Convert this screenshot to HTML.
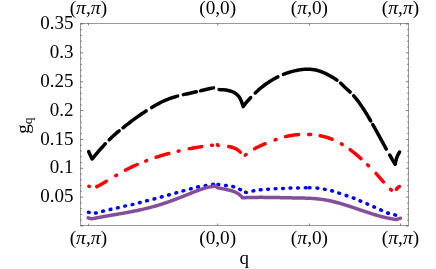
<!DOCTYPE html>
<html><head><meta charset="utf-8"><title>plot</title>
<style>
html,body{margin:0;padding:0;background:#fff;}
body{width:436px;height:269px;overflow:hidden;font-family:"Liberation Serif",serif;}
svg{display:block}
text{font-family:"Liberation Serif",serif;font-size:19px;fill:#000}
.i{font-style:italic;font-size:19.8px}
.x{font-size:19.3px}
.c path{fill:none;stroke-width:3.5;stroke-linecap:round;stroke-linejoin:round}
</style></head><body>
<svg width="436" height="269" viewBox="0 0 436 269">
<rect width="436" height="269" fill="#fff"/>
<g class="c">
<path d="M88.64 151.60 L89.50 153.39 L90.80 156.16 L92.10 159.00 L93.17 157.75 L94.24 156.50 L95.31 155.24 L96.38 153.98 L97.45 152.72 L98.52 151.47 L99.58 150.22 L100.65 148.98 L101.72 147.76 L102.79 146.55 L103.86 145.35 L104.93 144.17 L105.32 143.75" stroke="#000" stroke-width="3.8"/>
<path d="M109.21 139.72 L109.54 139.39 L110.57 138.39 L111.61 137.41 L112.65 136.45 L113.68 135.52 L114.72 134.60 L115.75 133.71 L116.79 132.82 L117.83 131.96 L118.86 131.10 L119.13 130.89" stroke="#000" stroke-width="3.8"/>
<path d="M122.98 127.78 L123.23 127.58 L124.27 126.77 L125.30 125.95 L126.33 125.15 L127.37 124.35 L128.40 123.55 L129.43 122.76 L130.47 121.98 L131.50 121.20 L132.53 120.43 L133.57 119.66 L134.60 118.90 L135.63 118.15 L136.67 117.41 L137.70 116.67 L138.73 115.95 L139.77 115.23 L140.80 114.51 L141.83 113.81 L142.87 113.11 L143.90 112.43 L144.93 111.75 L145.97 111.08 L146.16 110.96" stroke="#000" stroke-width="3.8"/>
<path d="M151.66 107.56 L151.83 107.45 L152.86 106.84 L153.89 106.23 L154.92 105.63 L155.95 105.04 L156.98 104.47 L158.01 103.90 L159.04 103.35 L160.07 102.81 L161.10 102.29 L162.13 101.78 L163.16 101.29 L164.19 100.82 L165.21 100.37 L166.24 99.93 L167.27 99.51 L168.30 99.11 L169.33 98.73 L170.36 98.36 L171.39 98.00 L172.42 97.66 L173.45 97.33 L174.48 97.01 L175.51 96.70 L176.54 96.41 L177.57 96.12 L177.63 96.11" stroke="#000" stroke-width="3.8"/>
<path d="M183.37 94.66 L183.46 94.64 L184.53 94.40 L185.59 94.16 L186.66 93.92 L187.72 93.68 L188.79 93.45 L189.85 93.22 L190.91 92.99 L191.98 92.76 L193.04 92.53 L194.11 92.30 L195.17 92.06 L196.24 91.82 L196.33 91.80" stroke="#000" stroke-width="3.8"/>
<path d="M200.47 90.84 L200.56 90.82 L201.63 90.56 L202.69 90.31 L203.76 90.06 L204.82 89.80 L205.89 89.55 L206.95 89.30 L208.01 89.05 L209.08 88.80 L210.14 88.56 L211.21 88.32 L212.27 88.09 L213.34 87.86 L213.42 87.84" stroke="#000" stroke-width="3.8"/>
<path d="M219.10 89.60 L219.10 89.60 L220.10 89.66 L221.10 89.70 L222.10 89.74 L223.10 89.78 L224.10 89.84 L225.10 89.92 L226.10 90.05 L227.10 90.22 L228.10 90.43 L229.10 90.68 L230.10 90.96 L231.10 91.28 L232.10 91.63 L233.10 92.03 L234.10 92.54 L235.10 93.15 L236.10 93.88 L237.10 94.73 L238.10 95.69 L239.10 96.91 L240.10 98.59 L241.10 100.65 L242.10 103.25 L243.10 106.60 L244.14 105.25 L245.18 103.95 L246.21 102.67 L247.25 101.43 L248.29 100.23 L249.32 99.05 L250.36 97.91 L250.72 97.52" stroke="#000" stroke-width="3.8"/>
<path d="M255.22 92.95 L255.51 92.66 L256.52 91.72 L257.54 90.79 L258.55 89.90 L259.56 89.02 L260.57 88.17 L261.59 87.35 L262.60 86.54 L263.61 85.76 L264.62 85.00 L265.64 84.26 L266.65 83.54 L267.66 82.84 L268.68 82.17 L269.69 81.51 L270.70 80.87 L271.71 80.24 L272.73 79.64 L273.74 79.06 L274.75 78.49 L275.76 77.95 L276.78 77.42 L277.79 76.91 L277.90 76.85" stroke="#000" stroke-width="3.8"/>
<path d="M283.43 74.38 L283.51 74.35 L284.51 73.95 L285.52 73.58 L286.52 73.21 L287.53 72.87 L288.53 72.54 L289.54 72.22 L290.54 71.92 L291.55 71.63 L292.55 71.36 L293.56 71.11 L294.57 70.86 L295.57 70.63 L296.58 70.42 L297.58 70.22 L298.59 70.04 L299.59 69.87 L300.60 69.72 L301.60 69.59 L302.61 69.47 L303.61 69.38 L304.62 69.30 L305.63 69.25 L306.63 69.22 L307.64 69.21 L308.64 69.23 L309.65 69.27 L310.65 69.33 L311.66 69.42 L312.66 69.54 L313.67 69.68 L314.67 69.85 L315.68 70.05 L316.69 70.28 L317.69 70.55 L318.70 70.84 L319.70 71.16 L320.71 71.51 L321.71 71.89 L322.72 72.29 L323.72 72.72 L324.73 73.17 L325.73 73.65 L326.74 74.15 L327.75 74.66 L328.75 75.19 L329.76 75.74 L330.76 76.31 L331.77 76.89 L332.77 77.48 L333.78 78.09 L334.78 78.70 L335.79 79.34 L336.79 80.01 L336.99 80.15" stroke="#000" stroke-width="3.8"/>
<path d="M340.54 83.09 L340.81 83.35 L341.82 84.31 L342.83 85.29 L343.84 86.28 L344.85 87.25 L345.85 88.20 L346.86 89.11 L347.87 90.02 L348.88 90.92 L349.89 91.85 L350.18 92.12" stroke="#000" stroke-width="3.8"/>
<path d="M353.67 95.74 L354.01 96.13 L355.02 97.32 L356.03 98.55 L357.04 99.83 L358.06 101.16 L359.07 102.53 L360.08 103.94 L361.09 105.40 L362.10 106.89 L363.11 108.42 L364.12 109.98 L365.13 111.58 L366.14 113.21 L367.16 114.87 L368.17 116.55 L369.18 118.26 L370.19 120.00 L370.70 120.89" stroke="#000" stroke-width="3.8"/>
<path d="M372.79 124.56 L373.34 125.52 L374.37 127.37 L375.41 129.24 L376.44 131.11 L377.48 133.00 L378.51 134.89 L379.55 136.78 L380.59 138.68 L381.62 140.57 L382.66 142.46 L383.69 144.35 L384.73 146.23 L385.76 148.10 L386.31 149.08" stroke="#000" stroke-width="3.8"/>
<path d="M389.7 155.0 L392.5 159.8 L395.2 164.3" stroke="#000" stroke-width="3.8"/>
<path d="M395.30 163.60 L395.70 161.50 L396.20 159.50 L397.00 157.00 L398.20 154.30 L399.60 152.00" stroke="#000" stroke-width="2.7"/>
<path d="M96.70 186.67 L96.84 186.61 L97.87 186.08 L98.91 185.55 L99.95 184.99 L100.98 184.42 L102.02 183.84 L103.05 183.25 L104.09 182.65 L105.13 182.04 L106.16 181.42 L106.34 181.32" stroke="#f00"/>
<path d="M125.38 170.18 L125.55 170.09 L126.61 169.54 L127.66 169.00 L128.72 168.47 L129.77 167.95 L130.82 167.44 L131.88 166.93 L132.93 166.44 L133.98 165.95 L135.04 165.48 L136.09 165.01 L137.15 164.55 L137.28 164.49" stroke="#f00"/>
<path d="M156.05 157.28 L156.15 157.25 L157.20 156.90 L158.25 156.56 L159.30 156.23 L160.35 155.90 L161.40 155.58 L162.45 155.26 L163.50 154.95 L164.55 154.65 L165.60 154.35 L166.65 154.06 L167.70 153.77 L168.75 153.49 L168.83 153.47" stroke="#f00"/>
<path d="M189.18 148.83 L189.24 148.82 L190.27 148.62 L191.31 148.42 L192.34 148.22 L193.38 148.03 L194.41 147.84 L195.45 147.65 L196.49 147.47 L197.52 147.29 L198.56 147.11 L199.59 146.94 L200.63 146.77 L201.66 146.61 L201.71 146.60" stroke="#f00"/>
<path d="M228.69 146.51 L228.72 146.52 L229.75 146.72 L230.77 146.95 L231.79 147.23 L232.82 147.53 L233.84 147.88 L234.86 148.29 L235.88 148.79 L236.91 149.38 L237.93 150.05 L238.95 150.80 L239.98 151.77 L240.33 152.16" stroke="#f00"/>
<path d="M254.65 148.77 L254.82 148.67 L255.83 148.08 L256.85 147.52 L257.87 146.99 L258.88 146.48 L259.90 145.99 L260.92 145.52 L261.93 145.07 L262.95 144.63 L263.97 144.20 L264.98 143.78 L265.07 143.75" stroke="#f00"/>
<path d="M285.47 136.67 L285.51 136.66 L286.51 136.42 L287.52 136.19 L288.53 135.98 L289.53 135.78 L290.54 135.59 L291.55 135.41 L292.55 135.25 L293.56 135.11 L294.57 134.97 L295.57 134.85 L296.58 134.74 L297.59 134.64 L298.59 134.56 L298.60 134.56" stroke="#f00"/>
<path d="M320.18 135.72 L320.27 135.74 L321.34 135.96 L322.41 136.19 L323.48 136.45 L324.55 136.73 L325.62 137.02 L326.68 137.34 L327.75 137.67 L328.82 138.03 L329.89 138.41 L330.96 138.81 L332.03 139.23 L332.18 139.29" stroke="#f00"/>
<path d="M350.11 149.68 L350.34 149.85 L351.38 150.63 L352.43 151.43 L353.47 152.25 L354.51 153.08 L355.55 153.93 L356.59 154.79 L357.63 155.67 L358.68 156.56 L359.72 157.47 L360.76 158.40 L361.06 158.67" stroke="#f00"/>
<path d="M375.98 173.47 L376.40 173.92 L377.50 175.13 L378.60 176.35 L379.70 177.58 L380.80 178.83 L381.90 180.10 L383.00 181.38 L383.45 181.91" stroke="#f00"/>
<path d="M396.41 189.25 L396.85 188.82 L398.00 187.35 L399.15 186.62 L399.34 186.57" stroke="#f00"/>
<path d="M88.90 186.30 L89.35 186.48" stroke="#f00"/>
<path d="M115.65 175.71 L115.95 175.53 L116.25 175.36 L116.55 175.18" stroke="#f00"/>
<path d="M145.75 161.02 L146.20 160.85 L146.65 160.68" stroke="#f00"/>
<path d="M178.15 151.17 L178.60 151.07 L179.05 150.96" stroke="#f00"/>
<path d="M211.65 145.30 L212.10 145.26 L212.55 145.21" stroke="#f00"/>
<path d="M217.45 144.81 L217.60 144.80 L217.70 145.30 L218.02 145.43 L218.35 145.49" stroke="#f00"/>
<path d="M245.25 155.12 L245.70 154.83 L246.15 154.53" stroke="#f00"/>
<path d="M275.15 139.84 L275.60 139.68 L276.05 139.52" stroke="#f00"/>
<path d="M308.55 134.39 L309.00 134.41 L309.45 134.43" stroke="#f00"/>
<path d="M309.75 134.44 L310.20 134.47 L310.65 134.50" stroke="#f00"/>
<path d="M341.35 143.87 L341.80 144.13 L342.25 144.40" stroke="#f00"/>
<path d="M367.55 164.77 L368.00 165.22 L368.45 165.66" stroke="#f00"/>
<path d="M390.55 189.47 L391.00 189.79 L391.45 190.08" stroke="#f00"/>
<path d="M88.40 212.37 L89.20 212.43" stroke="#00f"/>
<path d="M95.50 213.03 L96.30 212.97" stroke="#00f"/>
<path d="M102.61 211.30 L103.39 211.10" stroke="#00f"/>
<path d="M110.11 209.49 L110.89 209.31" stroke="#00f"/>
<path d="M117.41 207.89 L118.19 207.71" stroke="#00f"/>
<path d="M124.71 206.09 L125.49 205.91" stroke="#00f"/>
<path d="M132.11 204.59 L132.89 204.41" stroke="#00f"/>
<path d="M139.41 202.70 L140.19 202.50" stroke="#00f"/>
<path d="M146.61 200.80 L147.39 200.60" stroke="#00f"/>
<path d="M154.01 199.00 L154.79 198.80" stroke="#00f"/>
<path d="M161.31 197.01 L162.09 196.79" stroke="#00f"/>
<path d="M168.51 195.01 L169.29 194.79" stroke="#00f"/>
<path d="M175.92 192.91 L176.68 192.69" stroke="#00f"/>
<path d="M183.01 190.91 L183.79 190.69" stroke="#00f"/>
<path d="M190.41 188.90 L191.19 188.70" stroke="#00f"/>
<path d="M197.61 186.99 L198.39 186.81" stroke="#00f"/>
<path d="M205.11 185.67 L205.89 185.53" stroke="#00f"/>
<path d="M212.60 184.43 L213.40 184.37" stroke="#00f"/>
<path d="M217.90 184.47 L218.70 184.53" stroke="#00f"/>
<path d="M225.50 185.44 L226.30 185.56" stroke="#00f"/>
<path d="M232.81 186.49 L233.59 186.71" stroke="#00f"/>
<path d="M239.74 189.33 L240.46 189.67" stroke="#00f"/>
<path d="M245.50 192.36 L246.30 192.44" stroke="#00f"/>
<path d="M253.01 190.97 L253.79 190.83" stroke="#00f"/>
<path d="M260.30 189.85 L261.10 189.75" stroke="#00f"/>
<path d="M267.70 189.23 L268.50 189.17" stroke="#00f"/>
<path d="M275.20 188.72 L276.00 188.68" stroke="#00f"/>
<path d="M282.60 188.42 L283.40 188.38" stroke="#00f"/>
<path d="M290.10 188.11 L290.90 188.09" stroke="#00f"/>
<path d="M297.60 187.91 L298.40 187.89" stroke="#00f"/>
<path d="M305.30 187.80 L306.10 187.80" stroke="#00f"/>
<path d="M309.20 187.79 L310.00 187.81" stroke="#00f"/>
<path d="M317.00 188.06 L317.80 188.14" stroke="#00f"/>
<path d="M324.41 189.23 L325.19 189.37" stroke="#00f"/>
<path d="M331.71 190.80 L332.49 191.00" stroke="#00f"/>
<path d="M338.82 193.08 L339.58 193.32" stroke="#00f"/>
<path d="M346.12 195.47 L346.88 195.73" stroke="#00f"/>
<path d="M353.23 197.96 L353.97 198.24" stroke="#00f"/>
<path d="M360.03 200.84 L360.77 201.16" stroke="#00f"/>
<path d="M366.93 203.74 L367.67 204.06" stroke="#00f"/>
<path d="M373.84 206.84 L374.56 207.16" stroke="#00f"/>
<path d="M380.73 209.94 L381.47 210.26" stroke="#00f"/>
<path d="M387.62 212.97 L388.38 213.23" stroke="#00f"/>
<path d="M394.81 214.90 L395.59 215.10" stroke="#00f"/>
<path d="M88.20 217.90 L89.50 218.26 L90.80 218.56 L92.10 218.80 L93.11 218.60 L94.11 218.40 L95.12 218.20 L96.13 218.00 L97.13 217.80 L98.14 217.61 L99.15 217.42 L100.15 217.23 L101.16 217.05 L102.17 216.86 L103.17 216.68 L104.18 216.50 L105.18 216.32 L106.19 216.14 L107.20 215.97 L108.20 215.79 L109.21 215.61 L110.22 215.44 L111.22 215.27 L112.23 215.09 L113.24 214.92 L114.24 214.75 L115.25 214.57 L116.26 214.40 L117.26 214.23 L118.27 214.05 L119.28 213.88 L120.28 213.70 L121.29 213.53 L122.30 213.35 L123.30 213.17 L124.31 212.99 L125.31 212.81 L126.32 212.63 L127.33 212.44 L128.33 212.26 L129.34 212.07 L130.35 211.88 L131.35 211.68 L132.36 211.49 L133.37 211.29 L134.37 211.09 L135.38 210.89 L136.39 210.68 L137.39 210.47 L138.40 210.26 L139.41 210.04 L140.41 209.83 L141.42 209.60 L142.43 209.37 L143.43 209.14 L144.44 208.91 L145.44 208.67 L146.45 208.42 L147.46 208.18 L148.46 207.92 L149.47 207.67 L150.48 207.40 L151.48 207.13 L152.49 206.86 L153.50 206.58 L154.50 206.30 L155.51 206.01 L156.52 205.71 L157.52 205.41 L158.53 205.11 L159.54 204.80 L160.54 204.48 L161.55 204.16 L162.56 203.84 L163.56 203.51 L164.57 203.18 L165.57 202.84 L166.58 202.50 L167.59 202.15 L168.59 201.80 L169.60 201.45 L170.61 201.09 L171.61 200.73 L172.62 200.36 L173.63 199.99 L174.63 199.62 L175.64 199.24 L176.65 198.86 L177.65 198.48 L178.66 198.10 L179.67 197.71 L180.67 197.31 L181.68 196.92 L182.69 196.52 L183.69 196.12 L184.70 195.72 L185.70 195.31 L186.71 194.91 L187.72 194.50 L188.72 194.09 L189.73 193.68 L190.74 193.26 L191.74 192.86 L192.75 192.45 L193.76 192.05 L194.76 191.65 L195.77 191.26 L196.78 190.88 L197.78 190.50 L198.79 190.13 L199.80 189.77 L200.80 189.42 L201.81 189.08 L202.82 188.76 L203.82 188.45 L204.83 188.15 L205.83 187.87 L206.84 187.60 L207.85 187.35 L208.85 187.12 L209.86 186.91 L210.87 186.72 L211.87 186.55 L212.88 186.40 L213.89 186.28 L214.89 186.18 L215.90 186.10 L217.30 187.70 L218.30 187.90 L219.31 188.10 L220.31 188.30 L221.32 188.50 L222.32 188.69 L223.32 188.87 L224.33 189.06 L225.33 189.25 L226.34 189.46 L227.34 189.69 L228.34 189.92 L229.35 190.16 L230.35 190.42 L231.36 190.70 L232.36 191.02 L233.36 191.37 L234.37 191.77 L235.37 192.21 L236.38 192.70 L237.38 193.24 L238.38 193.84 L239.39 194.56 L240.39 195.41 L241.40 196.45 L242.40 197.80 L243.40 197.75 L244.41 197.70 L245.41 197.66 L246.42 197.62 L247.42 197.59 L248.43 197.55 L249.43 197.52 L250.44 197.50 L251.44 197.47 L252.45 197.45 L253.45 197.43 L254.45 197.42 L255.46 197.40 L256.46 197.39 L257.47 197.38 L258.47 197.38 L259.48 197.37 L260.48 197.37 L261.49 197.37 L262.49 197.37 L263.50 197.38 L264.50 197.38 L265.51 197.39 L266.51 197.40 L267.51 197.41 L268.52 197.42 L269.52 197.43 L270.53 197.45 L271.53 197.46 L272.54 197.48 L273.54 197.50 L274.55 197.52 L275.55 197.53 L276.56 197.55 L277.56 197.57 L278.56 197.59 L279.57 197.62 L280.57 197.64 L281.58 197.66 L282.58 197.68 L283.59 197.70 L284.59 197.72 L285.60 197.74 L286.60 197.77 L287.61 197.79 L288.61 197.81 L289.62 197.83 L290.62 197.85 L291.62 197.87 L292.63 197.88 L293.63 197.90 L294.64 197.92 L295.64 197.93 L296.65 197.95 L297.65 197.96 L298.66 197.98 L299.66 197.99 L300.67 198.01 L301.67 198.03 L302.67 198.05 L303.68 198.07 L304.68 198.10 L305.69 198.13 L306.69 198.16 L307.70 198.20 L308.70 198.24 L309.71 198.29 L310.71 198.34 L311.72 198.40 L312.72 198.46 L313.72 198.53 L314.73 198.61 L315.73 198.70 L316.74 198.79 L317.74 198.89 L318.75 199.00 L319.75 199.12 L320.76 199.25 L321.76 199.39 L322.77 199.53 L323.77 199.69 L324.78 199.85 L325.78 200.02 L326.78 200.20 L327.79 200.39 L328.79 200.59 L329.80 200.80 L330.80 201.02 L331.81 201.25 L332.81 201.48 L333.82 201.73 L334.82 201.98 L335.83 202.24 L336.83 202.50 L337.83 202.77 L338.84 203.05 L339.84 203.34 L340.85 203.63 L341.85 203.92 L342.86 204.22 L343.86 204.53 L344.87 204.84 L345.87 205.15 L346.88 205.47 L347.88 205.79 L348.88 206.12 L349.89 206.45 L350.89 206.78 L351.90 207.11 L352.90 207.45 L353.91 207.79 L354.91 208.12 L355.92 208.46 L356.92 208.81 L357.93 209.15 L358.93 209.49 L359.94 209.83 L360.94 210.17 L361.94 210.51 L362.95 210.85 L363.95 211.19 L364.96 211.53 L365.96 211.86 L366.97 212.20 L367.97 212.53 L368.98 212.85 L369.98 213.18 L370.99 213.50 L371.99 213.82 L372.99 214.13 L374.00 214.44 L375.00 214.74 L376.01 215.04 L377.01 215.33 L378.02 215.62 L379.02 215.90 L380.03 216.18 L381.03 216.45 L382.04 216.71 L383.04 216.97 L384.05 217.22 L385.05 217.46 L386.05 217.69 L387.06 217.91 L388.06 218.13 L389.07 218.33 L390.07 218.53 L391.08 218.72 L392.08 218.90 L393.09 219.06 L394.09 219.22 L395.10 219.37 L396.10 219.50 L397.20 219.20 L398.30 218.90 L399.40 218.60 L400.50 218.30" stroke="#854e99" stroke-width="3.5"/>
</g>
<rect x="80.5" y="23.5" width="328" height="202" fill="none" stroke="#000" stroke-opacity="0.40" stroke-width="1"/>
<path d="M80.50 226.00 h2.60 M408.50 226.00 h-2.60 M80.50 220.23 h1.40 M408.50 220.23 h-1.40 M80.50 214.46 h1.40 M408.50 214.46 h-1.40 M80.50 208.68 h1.40 M408.50 208.68 h-1.40 M80.50 202.91 h1.40 M408.50 202.91 h-1.40 M80.50 197.14 h2.60 M408.50 197.14 h-2.60 M80.50 191.37 h1.40 M408.50 191.37 h-1.40 M80.50 185.60 h1.40 M408.50 185.60 h-1.40 M80.50 179.82 h1.40 M408.50 179.82 h-1.40 M80.50 174.05 h1.40 M408.50 174.05 h-1.40 M80.50 168.28 h2.60 M408.50 168.28 h-2.60 M80.50 162.51 h1.40 M408.50 162.51 h-1.40 M80.50 156.74 h1.40 M408.50 156.74 h-1.40 M80.50 150.96 h1.40 M408.50 150.96 h-1.40 M80.50 145.19 h1.40 M408.50 145.19 h-1.40 M80.50 139.42 h2.60 M408.50 139.42 h-2.60 M80.50 133.65 h1.40 M408.50 133.65 h-1.40 M80.50 127.88 h1.40 M408.50 127.88 h-1.40 M80.50 122.10 h1.40 M408.50 122.10 h-1.40 M80.50 116.33 h1.40 M408.50 116.33 h-1.40 M80.50 110.56 h2.60 M408.50 110.56 h-2.60 M80.50 104.79 h1.40 M408.50 104.79 h-1.40 M80.50 99.02 h1.40 M408.50 99.02 h-1.40 M80.50 93.24 h1.40 M408.50 93.24 h-1.40 M80.50 87.47 h1.40 M408.50 87.47 h-1.40 M80.50 81.70 h2.60 M408.50 81.70 h-2.60 M80.50 75.93 h1.40 M408.50 75.93 h-1.40 M80.50 70.16 h1.40 M408.50 70.16 h-1.40 M80.50 64.38 h1.40 M408.50 64.38 h-1.40 M80.50 58.61 h1.40 M408.50 58.61 h-1.40 M80.50 52.84 h2.60 M408.50 52.84 h-2.60 M80.50 47.07 h1.40 M408.50 47.07 h-1.40 M80.50 41.30 h1.40 M408.50 41.30 h-1.40 M80.50 35.52 h1.40 M408.50 35.52 h-1.40 M80.50 29.75 h1.40 M408.50 29.75 h-1.40 M80.50 23.98 h2.60 M408.50 23.98 h-2.60 M88.40 225.50 v-2.00 M88.40 23.50 v2.00 M217.70 225.50 v-2.00 M217.70 23.50 v2.00 M309.40 225.50 v-2.00 M309.40 23.50 v2.00 M400.50 225.50 v-2.00 M400.50 23.50 v2.00" fill="none" stroke="#000" stroke-opacity="0.62" stroke-width="0.8"/>
<g style="filter:grayscale(1)">
<text x="73.6" y="202.24" text-anchor="end">0.05</text>
<text x="73.6" y="173.39" text-anchor="end">0.1</text>
<text x="73.6" y="144.53" text-anchor="end">0.15</text>
<text x="73.6" y="115.67" text-anchor="end">0.2</text>
<text x="73.6" y="86.81" text-anchor="end">0.25</text>
<text x="73.6" y="57.96" text-anchor="end">0.3</text>
<text x="73.6" y="29.10" text-anchor="end">0.35</text>
<text class="x" x="88.40" y="243.5" text-anchor="middle">(<tspan class="i">π</tspan>,<tspan class="i">π</tspan>)</text>
<text class="x" x="88.40" y="13.9" text-anchor="middle">(<tspan class="i">π</tspan>,<tspan class="i">π</tspan>)</text>
<text class="x" x="217.70" y="243.5" text-anchor="middle">(0,0)</text>
<text class="x" x="217.70" y="13.9" text-anchor="middle">(0,0)</text>
<text class="x" x="309.40" y="243.5" text-anchor="middle">(<tspan class="i">π</tspan>,0)</text>
<text class="x" x="309.40" y="13.9" text-anchor="middle">(<tspan class="i">π</tspan>,0)</text>
<text class="x" x="400.50" y="243.5" text-anchor="middle">(<tspan class="i">π</tspan>,<tspan class="i">π</tspan>)</text>
<text class="x" x="400.50" y="13.9" text-anchor="middle">(<tspan class="i">π</tspan>,<tspan class="i">π</tspan>)</text>
<text x="244.3" y="263.8" text-anchor="middle" font-size="21.2">q</text>
<g transform="translate(29,133.8) rotate(-90)"><text x="0" y="0">g<tspan dy="3.4" font-size="13.3">q</tspan></text></g>
</g>
</svg>
</body></html>
